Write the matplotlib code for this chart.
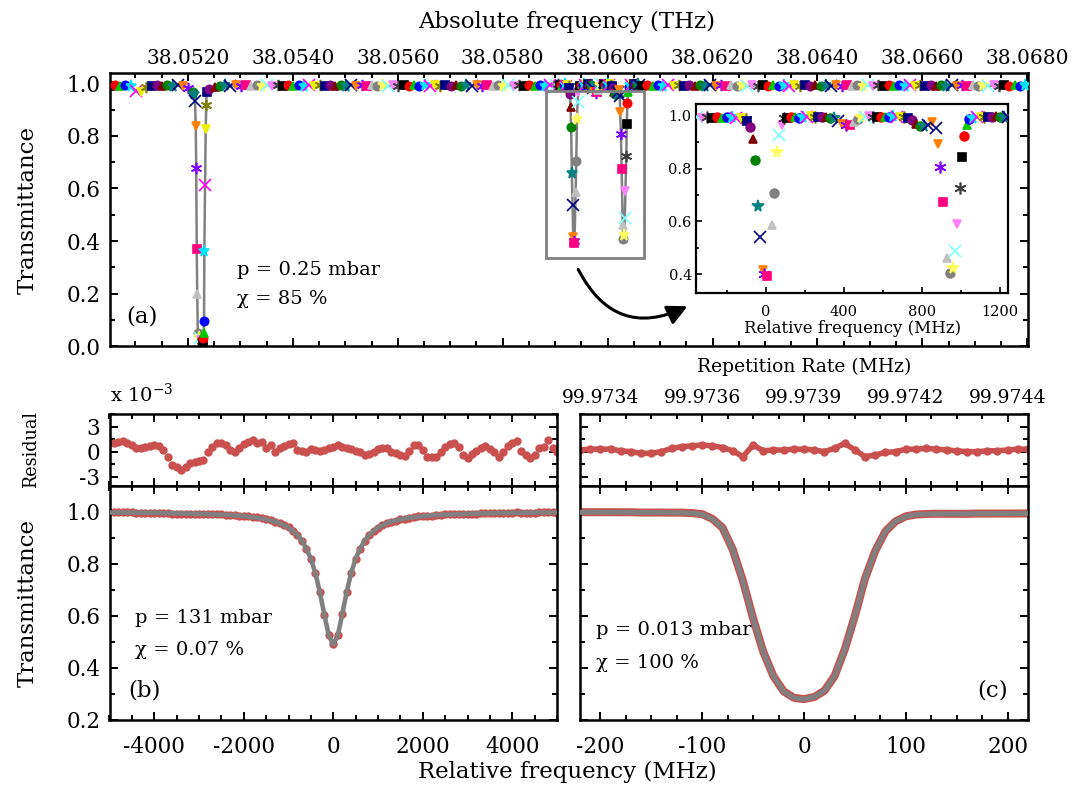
import numpy as np
import matplotlib
matplotlib.use("Agg")
import matplotlib.pyplot as plt
from matplotlib.patches import Rectangle, FancyArrowPatch
from matplotlib.ticker import MultipleLocator, FormatStrFormatter, FixedLocator

plt.rcParams['font.family'] = ['DejaVu Serif']
plt.rcParams['mathtext.fontset'] = 'dejavuserif'
plt.rcParams['axes.unicode_minus'] = False

# ---------------- data ----------------
F0 = 38.05936          # THz, zero of the relative scale in panel (a)
GRID = 100             # MHz, comb mode step used in the overview

# overview (a): relative frequency in MHz, transmittance
left_start = -8850
left_T = [0.990, 0.993, 0.991, 0.992, 0.988, 0.972, 0.966, 0.984, 0.991, 0.993,
          0.990, 0.992, 0.991, 0.993, 0.989, 0.982]

dip1_rel = [-7272, -7253, -7225, -7211, -7202, -7192, -7183, -7171, -7158, -7139,
            -7120, -7101, -7072, -7066, -7062, -7053, -7047, -7034, -7021, -7011, -7005]
dip1_T = [0.967, 0.958, 0.931, 0.839, 0.678, 0.370, 0.200, 0.050, 0.035, 0.030,
          0.025, 0.020, 0.015, 0.030, 0.050, 0.095, 0.363, 0.613, 0.827, 0.918, 0.967]

mid_start = -6950
mid_T = [0.978, 0.987, 0.991, 0.993, 0.990, 0.992, 0.991, 0.993, 0.989, 0.992,
         0.991, 0.993, 0.990, 0.992, 0.991, 0.993, 0.989, 0.992, 0.990, 0.993,
         0.991, 0.992, 0.989, 0.993, 0.990, 0.992, 0.991, 0.993, 0.990, 0.992,
         0.989, 0.993, 0.991, 0.992, 0.990, 0.993, 0.991, 0.992, 0.989, 0.993,
         0.990, 0.992, 0.991, 0.993, 0.990, 0.992, 0.991, 0.993, 0.989, 0.992,
         0.991, 0.993, 0.990, 0.992, 0.991, 0.993, 0.989, 0.992, 0.990, 0.993,
         0.991, 0.992, 0.990, 0.993, 0.991, 0.992]

right_start = 1300
right_T = [0.990, 0.993, 0.991, 0.992, 0.989, 0.993, 0.990, 0.992, 0.991, 0.993,
           0.990, 0.992, 0.991, 0.993, 0.989, 0.992, 0.990, 0.993, 0.991, 0.992,
           0.989, 0.993, 0.990, 0.992, 0.991, 0.993, 0.990, 0.992, 0.989, 0.993,
           0.991, 0.992, 0.990, 0.993, 0.991, 0.992, 0.989, 0.993, 0.990, 0.992,
           0.991, 0.993, 0.990, 0.992, 0.989, 0.993, 0.991, 0.992, 0.990, 0.993,
           0.990, 0.992, 0.991, 0.993, 0.989, 0.992, 0.990, 0.993, 0.991, 0.992,
           0.989, 0.993, 0.990, 0.992, 0.991, 0.993, 0.990, 0.992, 0.991, 0.993,
           0.990, 0.992, 0.991, 0.992]

# zoomed region (inset)
insL_start, insL_step = -350, 25
insL_T = [0.995, 0.991, 0.996, 0.992, 0.995, 0.990, 0.994, 0.996, 0.991, 0.993, 0.988]

dipA_rel = [-94, -80, -67, -55, -41, -29, -15, -7, 9, 31, 43, 56, 68, 82, 94]
dipA_T = [0.980, 0.958, 0.911, 0.832, 0.660, 0.539, 0.416, 0.401, 0.394, 0.587,
          0.706, 0.864, 0.927, 0.965, 0.990]

insM_start, insM_step = 110, 20
insM_T = [0.990, 0.994, 0.996, 0.993, 0.996, 0.994, 0.997, 0.995, 0.996, 0.994,
          0.996, 0.993, 0.990, 0.980, 0.968, 0.963, 0.966, 0.976, 0.988, 0.994,
          0.996, 0.997, 0.995, 0.996, 0.994, 0.996, 0.995, 0.997, 0.995, 0.996,
          0.994, 0.990, 0.982, 0.968, 0.960, 0.959, 0.966, 0.975]

dipB_rel = [873, 880, 894, 908, 928, 942, 957, 968, 980, 997, 1005, 1017, 1031, 1043]
dipB_T = [0.952, 0.892, 0.807, 0.675, 0.460, 0.406, 0.423, 0.489, 0.589, 0.725,
          0.844, 0.923, 0.965, 0.987]

insR_start, insR_step = 1060, 20
insR_T = [0.993, 0.995, 0.996, 0.994, 0.996, 0.995, 0.997, 0.995, 0.996, 0.994]

zoom_box_rel = (-532, 1325)
zoom_box_T = (0.335, 0.972)

# panel (b): 131 mbar, comb modes every 100 MHz from -5000 to 5000
b_start, b_step = -5000, 100
b_fit = [0.997, 0.997, 0.997, 0.997, 0.997, 0.997, 0.996, 0.996, 0.996, 0.996,
         0.996, 0.995, 0.995, 0.995, 0.994, 0.994, 0.994, 0.993, 0.993, 0.992,
         0.992, 0.991, 0.991, 0.990, 0.989, 0.989, 0.988, 0.987, 0.986, 0.984,
         0.983, 0.981, 0.979, 0.977, 0.974, 0.971, 0.966, 0.962, 0.956, 0.948,
         0.939, 0.926, 0.910, 0.889, 0.858, 0.820, 0.764, 0.692, 0.605, 0.525,
         0.490,
         0.525, 0.605, 0.692, 0.764, 0.820, 0.858, 0.889, 0.910, 0.926, 0.939,
         0.948, 0.956, 0.962, 0.966, 0.971, 0.974, 0.977, 0.979, 0.981, 0.983,
         0.984, 0.986, 0.987, 0.988, 0.989, 0.989, 0.990, 0.991, 0.991, 0.992,
         0.992, 0.993, 0.993, 0.994, 0.994, 0.994, 0.995, 0.995, 0.995, 0.996,
         0.996, 0.996, 0.996, 0.996, 0.997, 0.997, 0.997, 0.997, 0.997, 0.997]
b_resid = [1.0, 1.1, 1.2, 1.3, 1.0, 0.8, 0.5, 0.4, 0.6, 0.7,
           0.8, 0.7, 0.2, -0.7, -1.6, -1.8, -2.2, -1.9, -1.4, -1.2,
           -1.1, -1.0, -0.1, 0.6, 1.0, 1.0, 0.8, 0.2, 0.0, 0.4,
           0.9, 1.2, 1.4, 1.1, 1.2, 0.4, 0.8, 0.0, 0.4, 0.7,
           0.9, 1.0, 0.2, 0.1, -0.1, 0.3, 0.2, 0.1, 0.2, 0.4,
           0.6, 0.8, 0.6, 0.4, 0.3, 0.1, -0.1, -0.4, -0.3, 0.0,
           0.3, 0.5, 0.4, 0.0, -0.2, -0.4, -0.5, 0.1, 0.8, 0.8,
           0.2, -0.6, -0.6, -0.7, 0.0, 0.6, 0.9, 1.0, 0.6, -0.4,
           -0.8, -0.3, 0.1, 0.5, 0.7, 0.3, -0.1, -0.6, 0.0, 0.7,
           1.0, 1.3, 0.1, -0.4, -0.8, -0.4, 0.5, 0.6, 1.4, 0.5,
           0.0]

# panel (c): 0.013 mbar, -220 .. 220 MHz in 10 MHz steps
c_start, c_step = -220, 10
c_fit = [0.998, 0.998, 0.998, 0.998, 0.998, 0.998, 0.997, 0.997, 0.997, 0.996,
         0.996, 0.994, 0.990, 0.972, 0.938, 0.855, 0.735, 0.590, 0.462, 0.368,
         0.310, 0.285, 0.280, 0.288, 0.312, 0.368, 0.470, 0.600, 0.745, 0.850,
         0.925, 0.963, 0.982, 0.989, 0.991, 0.992, 0.992, 0.992, 0.992, 0.993,
         0.993, 0.993, 0.993, 0.993, 0.993]
c_resid = [0.2, 0.3, 0.3, 0.3, 0.1, 0.0, -0.2, -0.2, 0.0, 0.4,
           0.6, 0.7, 0.8, 0.7, 0.5, 0.1, -0.6, 0.8, 0.1, 0.2,
           0.2, 0.3, 0.3, 0.2, 0.0, 0.4, 1.0, 0.2, -0.6, -0.4,
           -0.1, 0.0, 0.3, 0.3, 0.4, 0.3, 0.2, 0.1, 0.0, 0.0,
           0.1, 0.1, 0.2, 0.3, 0.3]
rep_ticks = [-200, -100, 0, 100, 200]
rep_labels = ['99.9734', '99.9736', '99.9739', '99.9742', '99.9744']

# Origin-like marker cycle
AST = (6, 2, 0)
STYLES = [('s', '#000000'), ('o', '#FF0000'), ('^', '#00C800'), ('o', '#0000FF'),
          ('*', '#00E5FF'), ('x', '#FF00FF'), ('v', '#F0F000'), (AST, '#808000'),
          ('s', '#000080'), ('o', '#800080'), ('^', '#800000'), ('o', '#008000'),
          ('*', '#008080'), ('x', '#000080'), ('v', '#FF8000'), (AST, '#8000FF'),
          ('s', '#FF0080'), ('^', '#C0C0C0'), ('o', '#808080'), ('*', '#FFFF60'),
          ('x', '#80FFFF'), ('v', '#FF80FF'), (AST, '#404040')]

RED = '#C9504F'
GRAY = '#808080'


def grid(start, step, n):
    return start + step * np.arange(n)


def draw_points(ax, x, y, start, ms):
    for i in range(len(x)):
        mk, col = STYLES[(start + i) % len(STYLES)]
        size = ms * 1.35 if (mk in ('*', 'x') or mk == AST) else ms
        ax.plot(x[i], y[i], ls='none', marker=mk, ms=size, color=col,
                mec=col, mew=1.2, zorder=3)


def style_ticks(ax, size=15.5):
    ax.tick_params(which='both', direction='in', top=True, bottom=True,
                   left=True, right=True, width=1.4, labelsize=size)
    ax.tick_params(which='major', length=6)
    ax.tick_params(which='minor', length=3.3)
    for s in ax.spines.values():
        s.set_linewidth(1.8)


W, H = 1072, 786
fig = plt.figure(figsize=(W / 100, H / 100), dpi=100)


def box(l, t, r, b):
    return [l / W, 1 - b / H, (r - l) / W, (b - t) / H]


ax_a = fig.add_axes(box(109.5, 72.7, 1028, 346.3))
ax_br = fig.add_axes(box(109.5, 414.3, 557, 485.7))
ax_b = fig.add_axes(box(109.5, 485.7, 557, 720))
ax_cr = fig.add_axes(box(580, 414.3, 1028, 485.7))
ax_c = fig.add_axes(box(580, 485.7, 1028, 720))
ax_in = fig.add_axes(box(696, 104.3, 1008.3, 292.7))

# ---------------- panel (a) ----------------
segments = [
    (grid(left_start, GRID, len(left_T)), left_T, 0),
    (np.array(dip1_rel), dip1_T, 11),
    (grid(mid_start, GRID, len(mid_T)), mid_T, 9),
    (grid(insL_start, insL_step, len(insL_T)), insL_T, 20),
    (np.array(dipA_rel), dipA_T, 8),
    (grid(insM_start, insM_step, len(insM_T)), insM_T, 0),
    (np.array(dipB_rel), dipB_T, 13),
    (grid(insR_start, insR_step, len(insR_T)), insR_T, 4),
    (grid(right_start, GRID, len(right_T)), right_T, 0),
]

all_x = np.concatenate([np.asarray(s[0], float) for s in segments])
all_y = np.concatenate([np.asarray(s[1], float) for s in segments])
order = np.argsort(all_x)
ax_a.plot(F0 + all_x[order] * 1e-6, all_y[order], color=GRAY, lw=1.8, zorder=2)
for x, y, st in segments:
    draw_points(ax_a, F0 + np.asarray(x) * 1e-6, y, st, 6)

ax_a.add_patch(Rectangle((F0 + zoom_box_rel[0] * 1e-6, zoom_box_T[0]),
                         (zoom_box_rel[1] - zoom_box_rel[0]) * 1e-6,
                         zoom_box_T[1] - zoom_box_T[0],
                         fill=False, ec=GRAY, lw=2.0, zorder=4))

ax_a.set_xlim(38.050505, 38.068014)
ax_a.set_ylim(0, 1.04)
style_ticks(ax_a)
ax_a.xaxis.set_major_locator(MultipleLocator(0.002))
ax_a.xaxis.set_minor_locator(MultipleLocator(0.0005))
ax_a.xaxis.set_major_formatter(FormatStrFormatter('%.4f'))
ax_a.yaxis.set_major_locator(MultipleLocator(0.2))
ax_a.yaxis.set_minor_locator(MultipleLocator(0.1))
ax_a.yaxis.set_major_formatter(FormatStrFormatter('%.1f'))
ax_a.tick_params(axis='x', labeltop=True, labelbottom=False, pad=3.5, labelsize=14.5)
ax_a.tick_params(axis='y', pad=6.5)

# inset
for x, y, st in segments[3:8]:
    draw_points(ax_in, x, y, st, 6.3)
ax_in.set_xlim(-357, 1242)
ax_in.set_ylim(0.33, 1.043)
ax_in.tick_params(which='both', direction='in', top=False, right=False,
                  width=1.2, labelsize=10.5)
ax_in.tick_params(which='major', length=4)
ax_in.tick_params(which='minor', length=2.5)
ax_in.tick_params(axis='x', pad=8.5)
ax_in.tick_params(axis='y', pad=3)
ax_in.xaxis.set_major_locator(MultipleLocator(400))
ax_in.xaxis.set_minor_locator(MultipleLocator(200))
ax_in.yaxis.set_major_locator(MultipleLocator(0.2))
ax_in.yaxis.set_minor_locator(MultipleLocator(0.1))
ax_in.yaxis.set_major_formatter(FormatStrFormatter('%.1f'))
ax_in.set_xlabel('Relative frequency (MHz)', fontsize=12, labelpad=1)
for s in ax_in.spines.values():
    s.set_linewidth(1.6)

arrow = FancyArrowPatch((577 / W, 1 - 267 / H), (690 / W, 1 - 305 / H),
                        transform=fig.transFigure,
                        connectionstyle='arc3,rad=0.5',
                        arrowstyle='-|>,head_length=0.8,head_width=0.4',
                        mutation_scale=15, lw=2.2, color='black')
fig.add_artist(arrow)

# ---------------- panel (b) ----------------
bx = grid(b_start, b_step, len(b_fit))
b_data = np.array(b_fit) + np.array(b_resid) * 1e-3
ax_b.plot(bx, b_data, ls='none', marker='o', ms=5, color=RED, mec=RED, zorder=2)
ax_b.plot(bx, b_fit, color=GRAY, lw=3.3, zorder=3)
ax_br.plot(bx, b_resid, ls='none', marker='o', ms=5, color=RED, mec=RED)

for ax in (ax_b, ax_br):
    ax.set_xlim(-5000, 5000)
    style_ticks(ax)
    ax.xaxis.set_major_locator(MultipleLocator(2000))
    ax.xaxis.set_minor_locator(MultipleLocator(500))

# ---------------- panel (c) ----------------
cx = grid(c_start, c_step, len(c_fit))
c_data = np.array(c_fit) + np.array(c_resid) * 1e-3
ax_c.plot(cx, c_data, color=RED, lw=5.8, solid_capstyle='butt', zorder=2)
ax_c.plot(cx, c_fit, color=GRAY, lw=3.6, zorder=3)
ax_cr.plot(cx, c_resid, color=RED, lw=4, marker='o', ms=5, mec=RED)

for ax in (ax_c, ax_cr):
    ax.set_xlim(-220, 220)
    style_ticks(ax)
    ax.xaxis.set_major_locator(MultipleLocator(100))
    ax.xaxis.set_minor_locator(MultipleLocator(25))

ax_cr.xaxis.set_major_locator(FixedLocator(rep_ticks))
ax_cr.set_xticklabels(rep_labels)

for ax in (ax_b, ax_c):
    ax.set_ylim(0.2, 1.1)
    ax.yaxis.set_major_locator(MultipleLocator(0.2))
    ax.yaxis.set_minor_locator(MultipleLocator(0.1))
    ax.yaxis.set_major_formatter(FormatStrFormatter('%.1f'))
    ax.tick_params(axis='x', pad=11.5)
    ax.tick_params(axis='y', pad=6.5)
for ax in (ax_br, ax_cr):
    ax.set_ylim(-4.1, 4.5)
    ax.yaxis.set_major_locator(FixedLocator([-3, 0, 3]))
    ax.yaxis.set_minor_locator(MultipleLocator(1.5))
    ax.tick_params(axis='y', pad=6.5)
ax_br.set_yticklabels(['-3', '0', '3'])
ax_br.tick_params(axis='x', labelbottom=False, labeltop=False)
ax_cr.tick_params(axis='x', labelbottom=False, labeltop=True, pad=5.5, labelsize=13.5)
ax_cr.tick_params(axis='y', labelleft=False)
ax_c.tick_params(axis='y', labelleft=False)

# ---------------- texts ----------------
def ftext(x, y, s, **kw):
    fig.text(x / W, 1 - y / H, s, **kw)


ftext(567, 22, 'Absolute frequency (THz)', fontsize=16.5, ha='center', va='center')
ftext(567, 772, 'Relative frequency (MHz)', fontsize=16.5, ha='center', va='center')
ftext(804, 367, 'Repetition Rate (MHz)', fontsize=13.5, ha='center', va='center')
ftext(28, 210, 'Transmittance', fontsize=16.5, rotation=90, ha='center', va='center')
ftext(28, 603, 'Transmittance', fontsize=16.5, rotation=90, ha='center', va='center')
ftext(31, 450, 'Residual', fontsize=12.7, rotation=90, ha='center', va='center')
ftext(110, 401.7, r'x 10$^{\mathregular{-3}}$', fontsize=14, ha='left', va='baseline')

ftext(237, 274.5, 'p = 0.25 mbar', fontsize=14, va='baseline')
ftext(237, 304.5, 'χ = 85 %', fontsize=14, va='baseline')
ftext(142, 317, '(a)', fontsize=16.5, ha='center', va='center')

ftext(135, 623, 'p = 131 mbar', fontsize=14, va='baseline')
ftext(135, 655, 'χ = 0.07 %', fontsize=14, va='baseline')
ftext(144, 691, '(b)', fontsize=16.5, ha='center', va='center')

ftext(596, 635, 'p = 0.013 mbar', fontsize=14, va='baseline')
ftext(596, 668, 'χ = 100 %', fontsize=14, va='baseline')
ftext(1008, 691, '(c)', fontsize=16.5, ha='right', va='center')

fig.savefig('out.png', dpi=100)
